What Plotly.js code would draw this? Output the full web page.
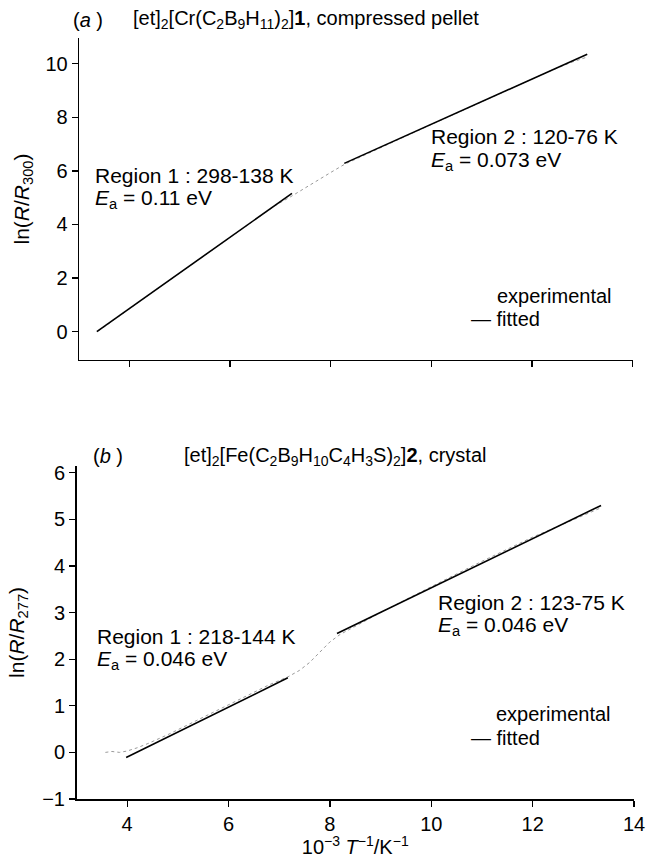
<!DOCTYPE html>
<html><head><meta charset="utf-8">
<script src="https://cdn.plot.ly/plotly-3.0.1.min.js"></script>
<style>html,body{margin:0;padding:0;background:#fff}</style>
</head><body><div id="chart" style="width:646px;height:858px"></div>
<script>
// Panel (a): [et]2[Cr(C2B9H11)2] 1, compressed pellet
const expA_x = [3.38, 3.6, 4.0, 4.5, 5.0, 5.5, 6.0, 6.5, 6.9, 7.2, 7.5, 7.8, 8.0, 8.28, 8.6, 9.0, 9.5, 10.0, 10.5, 11.0, 11.5, 12.0, 12.4, 12.8, 13.12];
const expA_y = [0.02, 0.32, 0.86, 1.53, 2.19, 2.86, 3.52, 4.18, 4.71, 5.03, 5.38, 5.71, 5.94, 6.25, 6.53, 6.88, 7.30, 7.73, 8.15, 8.58, 9.01, 9.42, 9.76, 10.06, 10.26];
const fitA1_x = [3.35, 7.23];
const fitA1_y = [0.0, 5.16];
const fitA2_x = [8.27, 13.10];
const fitA2_y = [6.28, 10.35];

// Panel (b): [et]2[Fe(C2B9H10C4H3S)2] 2, crystal
const expB_x = [3.57, 3.7, 3.85, 4.0, 4.2, 4.41, 4.8, 5.3, 5.8, 6.3, 6.8, 7.17, 7.4, 7.6, 7.8, 8.0, 8.2, 8.6, 9.0, 9.5, 10.0, 10.5, 11.0, 11.5, 12.0, 12.5, 13.0, 13.35];
const expB_y = [0.0, 0.02, 0.0, 0.03, 0.1, 0.19, 0.38, 0.65, 0.92, 1.18, 1.45, 1.62, 1.76, 1.93, 2.15, 2.37, 2.53, 2.77, 3.0, 3.28, 3.56, 3.83, 4.1, 4.36, 4.62, 4.85, 5.08, 5.25];
const fitB1_x = [3.98, 7.17];
const fitB1_y = [-0.11, 1.60];
const fitB2_x = [8.14, 13.35];
const fitB2_y = [2.55, 5.30];

const xTicks = [4, 6, 8, 10, 12, 14];
const yTicksA = [0, 2, 4, 6, 8, 10];
const yTicksB = [-1, 0, 1, 2, 3, 4, 5, 6];

const W = 646, H = 858;
const px = v => v / W;
const py = v => 1 - v / H;
const FONT = "Liberation Sans, Arial, sans-serif";

const expStyle = {color: '#9a9a9a', width: 1, dash: 'dot'};
const fitStyle = {color: '#000', width: 1.6};

const traces = [
  {x: expA_x, y: expA_y, xaxis: 'x', yaxis: 'y', mode: 'lines', line: expStyle, name: 'experimental'},
  {x: fitA1_x, y: fitA1_y, xaxis: 'x', yaxis: 'y', mode: 'lines', line: fitStyle, name: 'fitted'},
  {x: fitA2_x, y: fitA2_y, xaxis: 'x', yaxis: 'y', mode: 'lines', line: fitStyle, name: 'fitted'},
  {x: expB_x, y: expB_y, xaxis: 'x2', yaxis: 'y2', mode: 'lines', line: expStyle, name: 'experimental'},
  {x: fitB1_x, y: fitB1_y, xaxis: 'x2', yaxis: 'y2', mode: 'lines', line: fitStyle, name: 'fitted'},
  {x: fitB2_x, y: fitB2_y, xaxis: 'x2', yaxis: 'y2', mode: 'lines', line: fitStyle, name: 'fitted'}
];

const axBase = {
  showline: true, linecolor: '#000', linewidth: 1.5, mirror: false,
  ticks: 'outside', ticklen: 6, tickwidth: 1.3, tickcolor: '#000',
  showgrid: false, zeroline: false,
  tickfont: {family: FONT, size: 20, color: '#000'}
};

const layout = {
  width: W, height: H,
  margin: {l: 0, r: 0, t: 0, b: 0},
  paper_bgcolor: '#fff', plot_bgcolor: '#fff',
  showlegend: false,
  font: {family: FONT, color: '#000', size: 20},
  xaxis: Object.assign({}, axBase, {
    domain: [px(79.2), px(632.5)], range: [3, 14], anchor: 'y',
    tickvals: xTicks, showticklabels: false
  }),
  yaxis: Object.assign({}, axBase, {
    domain: [py(359.8), py(38.2)], range: [-1.05, 10.95], anchor: 'x',
    tickvals: yTicksA,
    title: {text: 'ln(<i>R</i>/<i>R</i><sub>300</sub>)', font: {family: FONT, size: 21}, standoff: 10}
  }),
  xaxis2: Object.assign({}, axBase, {
    domain: [px(76.5), px(634)], range: [3, 14], anchor: 'y2',
    tickvals: xTicks,
    title: {text: '10<sup>−3</sup> <i>T</i><sup>−1</sup>/K<sup>−1</sup>', font: {family: FONT, size: 20}, standoff: 2}
  }),
  yaxis2: Object.assign({}, axBase, {
    domain: [py(799), py(465.8)], range: [-1, 6.15], anchor: 'x2',
    tickvals: yTicksB,
    title: {text: 'ln(<i>R</i>/<i>R</i><sub>277</sub>)', font: {family: FONT, size: 21}, standoff: 12}
  }),
  annotations: []
};

function note(text, xPx, yPx, size) {
  layout.annotations.push({
    text: text, xref: 'paper', yref: 'paper', x: px(xPx), y: py(yPx),
    xanchor: 'left', yanchor: 'middle', showarrow: false, borderpad: 0,
    font: {family: FONT, size: size || 20, color: '#000'}
  });
}

// Panel (a)
note('(<i>a</i> )', 72, 20);
note('[et]<sub>2</sub>[Cr(C<sub>2</sub>B<sub>9</sub>H<sub>11</sub>)<sub>2</sub>]<b>1</b>, compressed pellet', 132, 20);
note('Region 1 : 298-138 K', 94, 175, 21);
note('<i>E</i><sub>a</sub> = 0.11 eV', 94, 199, 21);
note('Region 2 : 120-76 K', 430, 137, 21);
note('<i>E</i><sub>a</sub> = 0.073 eV', 430, 161, 21);
note('experimental', 496, 296);
note('— fitted', 470, 319);

// Panel (b)
note('(<i>b</i> )', 92, 456);
note('[et]<sub>2</sub>[Fe(C<sub>2</sub>B<sub>9</sub>H<sub>10</sub>C<sub>4</sub>H<sub>3</sub>S)<sub>2</sub>]<b>2</b>, crystal', 183, 456);
note('Region 1 : 218-144 K', 96, 636, 21);
note('<i>E</i><sub>a</sub> = 0.046 eV', 96, 660, 21);
note('Region 2 : 123-75 K', 437, 602, 21);
note('<i>E</i><sub>a</sub> = 0.046 eV', 437, 626, 21);
note('experimental', 495, 714);
note('— fitted', 470, 738);

Plotly.newPlot('chart', traces, layout, {displayModeBar: false, staticPlot: true});
</script>
</body></html>
